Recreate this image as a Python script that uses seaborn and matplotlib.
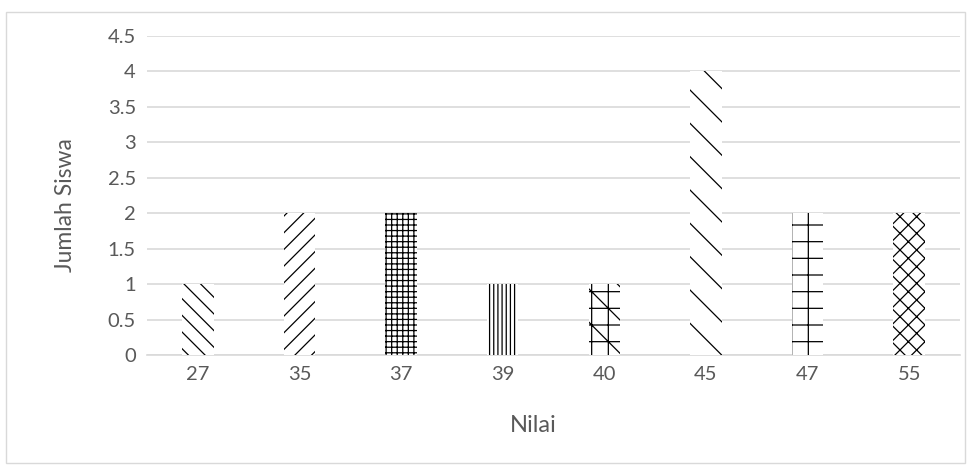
import matplotlib
matplotlib.use("Agg")
import matplotlib.pyplot as plt
import seaborn as sns
import pandas as pd
from matplotlib.patches import Rectangle

# data
nilai = ["27", "35", "37", "39", "40", "45", "47", "55"]
jumlah = [1, 2, 2, 1, 1, 4, 2, 2]
hatches = ["\\\\", "//", "+++", "||||", "\\+", "\\", "+", "xx"]

sns.set_style("white")
plt.rcParams["font.family"] = ["Lato", "DejaVu Sans"]
plt.rcParams["hatch.linewidth"] = 0.9

df = pd.DataFrame({"Nilai": nilai, "Jumlah": jumlah})

fig = plt.figure(figsize=(9.7, 4.69), dpi=100)
ax = fig.add_axes([147 / 970, 1 - 355 / 469, (960 - 147) / 970, (355 - 36) / 469])

sns.barplot(data=df, x="Nilai", y="Jumlah", order=nilai, color="white",
            width=0.31, ax=ax, zorder=3)
for bar, h in zip(ax.patches, hatches):
    bar.set_facecolor("white")
    bar.set_edgecolor("black")
    bar.set_linewidth(0)
    bar.set_hatch(h)

ax.set_ylim(0, 4.5)
ax.set_xlim(-0.5, len(nilai) - 0.5)
ax.set_yticks([0, 0.5, 1, 1.5, 2, 2.5, 3, 3.5, 4, 4.5])
ax.set_yticklabels(["0", "0.5", "1", "1.5", "2", "2.5", "3", "3.5", "4", "4.5"])
ax.yaxis.grid(True, color="#d9d9d9", linewidth=1.2, zorder=0)
ax.set_axisbelow(True)
for s in ["top", "right", "left"]:
    ax.spines[s].set_visible(False)
ax.spines["bottom"].set_color("#d9d9d9")
ax.spines["bottom"].set_linewidth(1.2)
ax.tick_params(axis="both", length=0, labelsize=14.5, colors="#595959", pad=8)

ax.set_xlabel("")
ax.set_ylabel("")
fig.text(533 / 970, 1 - 425 / 469, "Nilai", fontsize=17, color="#595959",
         ha="center", va="center")
fig.text(66 / 970, 1 - 205 / 469, "Jumlah Siswa", fontsize=16.5, color="#595959",
         ha="center", va="center", rotation=90)

fig.patches.append(Rectangle((6 / 970, 1 - 463 / 469), (965 - 6) / 970, (463 - 12) / 469,
                             transform=fig.transFigure, fill=False,
                             edgecolor="#d9d9d9", linewidth=1))

fig.savefig("out.png", dpi=100)
